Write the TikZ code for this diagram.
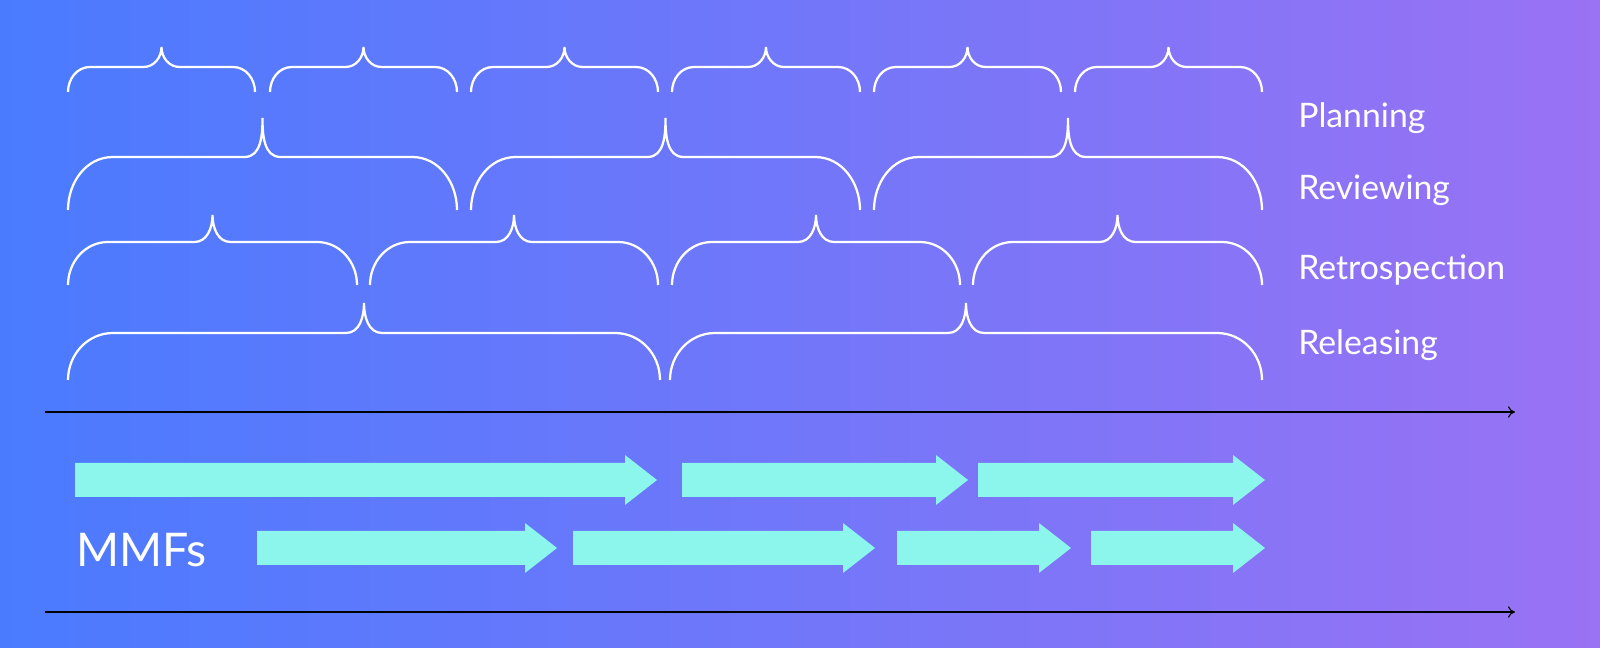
\documentclass[tikz,border=0pt]{standalone}
\usepackage{fontspec}
\setmainfont{Lato}
\usetikzlibrary{arrows.meta}
\definecolor{bgblue}{HTML}{4A7BFF}
\definecolor{bgpurple}{HTML}{9A72F4}
\definecolor{mmf}{HTML}{8CF6EC}
\tikzset{
  bracel/.style={draw=white, line width=1.6pt},
  lbl/.style={font=\fontsize{24}{28}\selectfont, text=white, anchor=west, inner sep=0pt},
  axis/.style={draw=black, line width=0.8pt, -{To[length=5pt,width=8pt]}},
}
% \cbrace{x1}{x2}{yline}{ytip}{yend}{r}
\newcommand\cbrace[6]{%
  \pgfmathsetmacro\xm{(#1+#2)/2}
  \draw[bracel] (#1,#5) to[out=90,in=180] (#1+#6,#3) -- (\xm-18,#3)
    to[out=0,in=-90] (\xm,#4) to[out=-90,in=180] (\xm+18,#3)
    -- (#2-#6,#3) to[out=0,in=90] (#2,#5);
}
% \mmf{x1}{x2}{y}
\newcommand\mmf[3]{%
  \fill[mmf] (#1,#3-17) -- (#2-32,#3-17) -- (#2-32,#3-25) -- (#2,#3)
    -- (#2-32,#3+25) -- (#2-32,#3+17) -- (#1,#3+17) -- cycle;
}
\begin{document}
\begin{tikzpicture}[x=0.025cm, y=-0.025cm]
  \useasboundingbox (0,0) rectangle (1600,648);
  \clip (0,0) rectangle (1600,648);
  \fill[left color=bgblue, right color=bgpurple] (0,0) rectangle (1600,648);

  % Rows of braces
  \foreach \a/\b in {68/255, 270/457, 471/658, 672/860, 874/1061, 1075/1262}
    {\cbrace{\a}{\b}{67}{47}{92}{22}}
  \foreach \a/\b in {68/457, 471/860, 874/1262}
    {\cbrace{\a}{\b}{157}{118}{210}{45}}
  \foreach \a/\b in {68/357, 370/658, 672/960, 973/1262}
    {\cbrace{\a}{\b}{242}{215}{285}{40}}
  \foreach \a/\b in {68/660, 670/1262}
    {\cbrace{\a}{\b}{333}{303}{380}{45}}

  % Labels
  \node[lbl] (plan) at (1298,118) {Planning};
  \node[lbl] (rev) at (1298,190) {Reviewing};
  \node[lbl] (retro) at (1298,270) {Retrospection};
  \node[lbl] (rel) at (1298,345) {Releasing};

  % Time axes
  \coordinate (t1s) at (45,412);
  \coordinate (t1e) at (1515,412);
  \coordinate (t2s) at (45,612);
  \coordinate (t2e) at (1515,612);
  \draw[axis] (t1s) -- (t1e);
  \draw[axis] (t2s) -- (t2e);

  % MMF arrows
  \foreach \a/\b in {75/657, 682/968, 978/1265}
    {\mmf{\a}{\b}{480}}
  \foreach \a/\b in {257/557, 573/875, 897/1071, 1091/1265}
    {\mmf{\a}{\b}{548}}
  \node[lbl, font=\fontsize{33}{38}\selectfont] (mmfs) at (76,550) {MMFs};
\end{tikzpicture}
\end{document}
